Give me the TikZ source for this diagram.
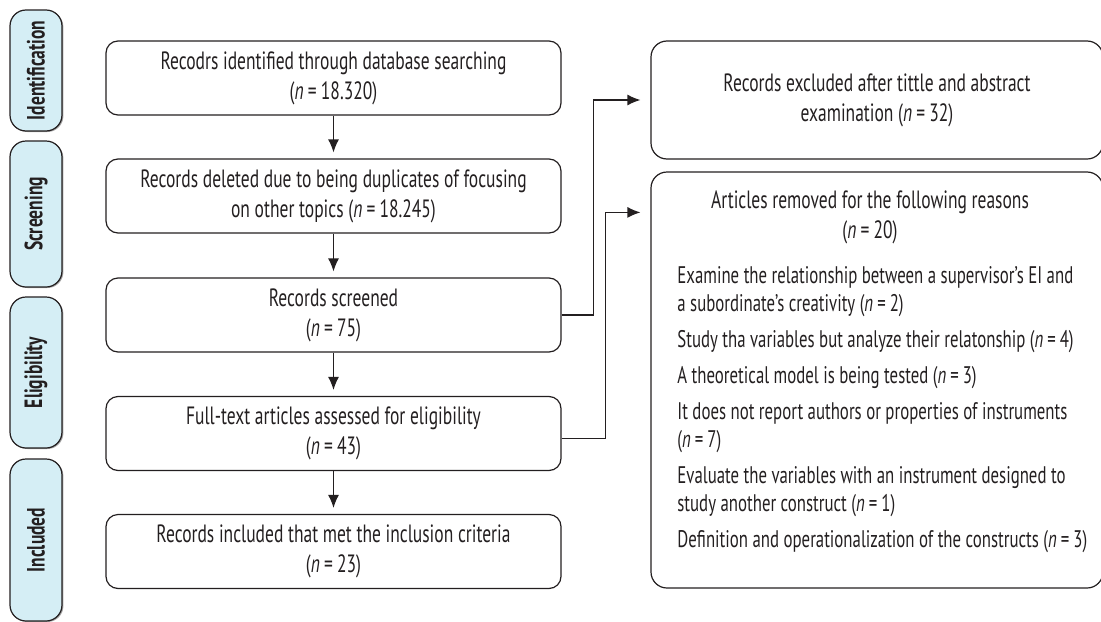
\documentclass[tikz,border=0pt]{standalone}
\usepackage{fontspec}
\setmainfont[FakeStretch=0.7]{PT Sans}
\usepackage{xcolor}
\usetikzlibrary{arrows.meta,shadows}
\definecolor{ink}{HTML}{231F20}
\definecolor{sidefill}{HTML}{D5EEF5}

\begin{document}
\begin{tikzpicture}[x=0.5pt, y=-0.5pt, font=\fontsize{12.5}{15}\selectfont, color=ink,
  box/.style={draw, rounded corners=6pt, line width=0.6pt, minimum width=227.5pt,
    minimum height=37pt, inner sep=0pt, align=center},
  exbox/.style={draw, rounded corners=8pt, line width=0.6pt, minimum width=226pt, inner sep=0pt},
  side/.style={draw, rounded corners=8pt, line width=0.6pt, fill=sidefill, rotate=90,
    minimum height=26pt, inner sep=0pt, font=\fontsize{12.5}{13}\selectfont\bfseries,
    drop shadow={shadow xshift=0.7pt, shadow yshift=-0.5pt, fill=gray!70, opacity=1}},
  flow/.style={-{Latex[length=6.5pt, width=5.5pt]}, line width=0.6pt, shorten >=3pt},
  item/.style={anchor=north west, inner sep=0pt, align=left, font=\fontsize{12}{14}\selectfont}]
\useasboundingbox (0,0) rectangle (1101,621);
% phases
\foreach \t/\y/\h in {Identification/70.5/60.5, Screening/214/73, Eligibility/372.5/75.5, Included/540/81}
  \node[side, minimum width=\h pt] (\t) at (36,\y) {\t};
% main column
\newcommand{\nn}[1]{(\textit{n}\,=\,#1)}
\node[box] (ident) at (333.5,78) {Recodrs identified through database searching\\\nn{18.320}};
\node[box] (dupl) at (333.5,196) {Records deleted due to being duplicates of focusing\\on other topics \nn{18.245}};
\node[box] (scr) at (333.5,315) {Records screened\\\nn{75}};
\node[box] (elig) at (333.5,433.5) {Full-text articles assessed for eligibility\\\nn{43}};
\node[box] (incl) at (333.5,551.5) {Records included that met the inclusion criteria\\\nn{23}};
% excluded
\node[exbox, minimum height=59pt, align=center] (exclA) at (877,100)
  {Records excluded after tittle and abstract\\examination \nn{32}};
\node[exbox, minimum height=208pt] (exclB) at (877,380) {};
\node[align=center, inner sep=0pt] (exclT) at (870,217)
  {Articles removed for the following reasons\\\nn{20}};
\node[item] (reasons) at (677,266) {%
  Examine the relationship between a supervisor's EI and\\
  a subordinate's creativity \nn{2}\\[4pt]
  Study tha variables but analyze their relatonship \nn{4}\\[4pt]
  A theoretical model is being tested \nn{3}\\[4pt]
  It does not report authors or properties of instruments\\
  \nn{7}\\[4pt]
  Evaluate the variables with an instrument designed to\\
  study another construct \nn{1}\\[4pt]
  Definition and operationalization of the constructs \nn{3}};
\coordinate (exclBin) at ([yshift=-20.5pt]exclB.north west);
% connectors
\draw[flow] (ident) -- (dupl);
\draw[flow] (dupl) -- (scr);
\draw[flow] (scr) -- (elig);
\draw[flow] (elig) -- (incl);
\draw[flow, shorten >=5pt] (scr.east) -- ++(16pt,0) |- (exclA.west);
\draw[flow, shorten >=5pt] ([yshift=-2.5pt]elig.east) -- ++(22pt,0) |- (exclBin);
\end{tikzpicture}
\end{document}
